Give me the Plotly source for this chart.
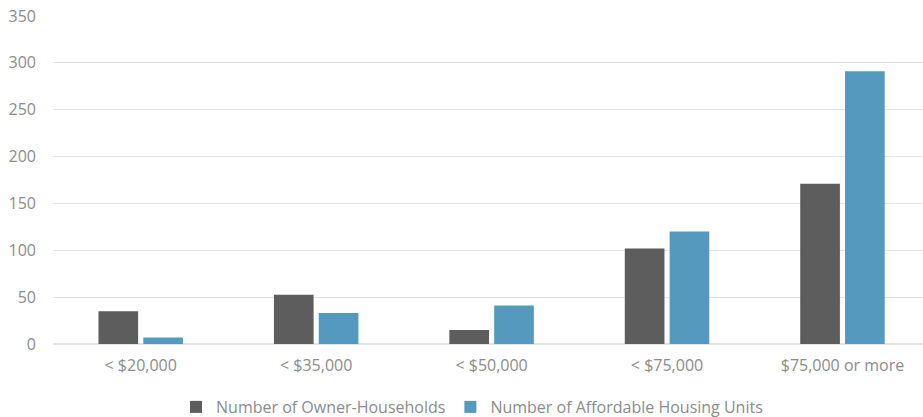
import plotly.graph_objects as go

categories = ["< $20,000", "< $35,000", "< $50,000", "< $75,000", "$75,000 or more"]
owner_households = [35, 52.5, 15, 102, 171]
affordable_units = [7, 33, 41, 120, 291]
series_names = ["Number of Owner-Households", "Number of Affordable Housing Units"]
y_ticks = [0, 50, 100, 150, 200, 250, 300, 350]

font_family = "Open Sans"
text_color = "#8c8c8c"

fig = go.Figure()
fig.add_trace(go.Bar(x=categories, y=owner_households, name=series_names[0],
                     marker=dict(color="#5d5d5d", line=dict(width=0))))
fig.add_trace(go.Bar(x=categories, y=affordable_units, name=series_names[1],
                     marker=dict(color="#5599bf", line=dict(width=0))))

fig.update_layout(
    width=923, height=417,
    margin=dict(l=53, r=0, t=16, b=73, autoexpand=False),
    paper_bgcolor="white", plot_bgcolor="white",
    barmode="group", bargap=0.489, bargroupgap=0.115,
    font=dict(family=font_family, size=16, color=text_color),
    showlegend=True,
    legend=dict(orientation="h", xref="container", yref="paper",
                x=0.1907, xanchor="left", y=-0.192, yanchor="middle",
                font=dict(family=font_family, size=16, color=text_color),
                itemwidth=30, traceorder="normal"),
    xaxis=dict(range=[-0.5, 4.459], showgrid=False, zeroline=False,
               showline=False, ticks="", ticklabelstandoff=10, automargin=False,
               tickfont=dict(family=font_family, size=16, color=text_color)),
    yaxis=dict(range=[0, 350], tickvals=y_ticks, showgrid=True,
               gridcolor="#e3e3e3", gridwidth=1, zeroline=True,
               zerolinecolor="#e3e3e3", zerolinewidth=1.5, showline=False,
               ticks="", ticklabelstandoff=16, automargin=False,
               tickfont=dict(family=font_family, size=16, color=text_color)),
)

fig.write_html("out.html", config={"displayModeBar": False})

with open("out.html", "r", encoding="utf-8") as f:
    html = f.read()
html = html.replace("<head>", "<head><style>html,body{margin:0;padding:0;overflow:hidden;}</style>", 1)
with open("out.html", "w", encoding="utf-8") as f:
    f.write(html)
